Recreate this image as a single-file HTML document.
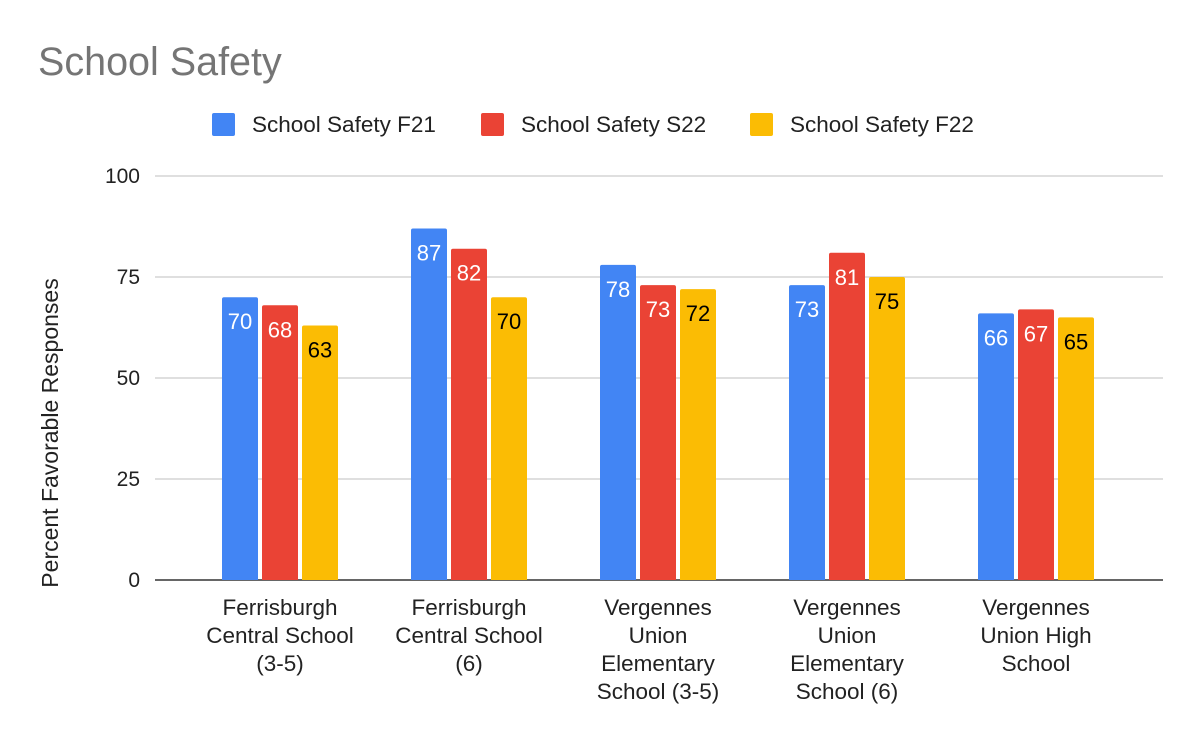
<!DOCTYPE html>
<html><head><meta charset="utf-8"><style>
body{margin:0;background:#fff;}
svg{display:block;font-family:"Liberation Sans",Arial,sans-serif;}
</style></head><body>
<svg id="chart" width="1200" height="742" viewBox="0 0 1200 742">
<rect width="1200" height="742" fill="#fff"/>
<text x="38" y="75" font-size="39.5" fill="#757575">School Safety</text>
<g id="legend"></g>
<g id="grid"></g>
<g id="bars"></g>
<g id="xlabels"></g>
<text transform="translate(58,433) rotate(-90)" text-anchor="middle" font-size="23" fill="#222">Percent Favorable Responses</text>
</svg>
<script>
const categories = [
  ["Ferrisburgh","Central School","(3-5)"],
  ["Ferrisburgh","Central School","(6)"],
  ["Vergennes","Union","Elementary","School (3-5)"],
  ["Vergennes","Union","Elementary","School (6)"],
  ["Vergennes","Union High","School"]
];
const seriesNames = ["School Safety F21","School Safety S22","School Safety F22"];
const f21 = [70, 87, 78, 73, 66];
const s22 = [68, 82, 73, 81, 67];
const f22 = [63, 70, 72, 75, 65];
const yTicks = [0, 25, 50, 75, 100];

const series = [f21, s22, f22];
const colors = ["#4285f4","#ea4335","#fbbc04"];
const labelColors = ["#fff","#fff","#000"];
const NS = "http://www.w3.org/2000/svg";
const y0 = 580, y1 = 176, xL = 155, xR = 1163;
const yScale = v => y0 - (v/100)*(y0-y1);
const groupCenter = i => 280 + i*189;
const barW = 36, barGap = 4;
function mk(tag, attrs, parent){const e=document.createElementNS(NS,tag);for(const k in attrs)e.setAttribute(k,attrs[k]);parent.appendChild(e);return e;}

const grid = document.getElementById('grid');
yTicks.forEach(t=>{
  const y=yScale(t);
  const l=mk('line',{x1:xL,x2:xR,y1:y,y2:y,stroke:t===0?'#333':'#ccc','stroke-width':t===0?1.5:1.2},grid);
  
  
  const tx=mk('text',{x:140,y:y+7,'text-anchor':'end','font-size':21,fill:'#222'},grid);
  tx.textContent=t;
  
  
});

const bars = document.getElementById('bars');
categories.forEach((c,i)=>{
  series.forEach((s,j)=>{
    const x=groupCenter(i)+(j-1)*(barW+barGap)-barW/2;
    const y=yScale(s[i]);
    const p=mk('path',{d:`M${x},${y0} V${y+2} Q${x},${y} ${x+2},${y} H${x+barW-2} Q${x+barW},${y} ${x+barW},${y+2} V${y0} Z`,fill:colors[j]},bars);
    
    
    const t=mk('text',{x:x+barW/2,y:y+32,'text-anchor':'middle','font-size':22,fill:labelColors[j]},bars);
    t.textContent=s[i];
    
    
  });
});

const xl = document.getElementById('xlabels');
categories.forEach((lines,i)=>{
  lines.forEach((ln,k)=>{
    const t=mk('text',{x:groupCenter(i),y:615+k*28,'text-anchor':'middle','font-size':22.5,fill:'#222'},xl);
    t.textContent=ln;
    
    
  });
});

const lg = document.getElementById('legend');
const legX=[212,481,750];
seriesNames.forEach((n,j)=>{
  const r=mk('rect',{x:legX[j],y:113,width:23,height:23,rx:2,fill:colors[j]},lg);
  
  
  const t=mk('text',{x:legX[j]+40,y:132,'font-size':22.5,fill:'#222'},lg);
  t.textContent=n;
  
  
});
</script>
</body></html>
